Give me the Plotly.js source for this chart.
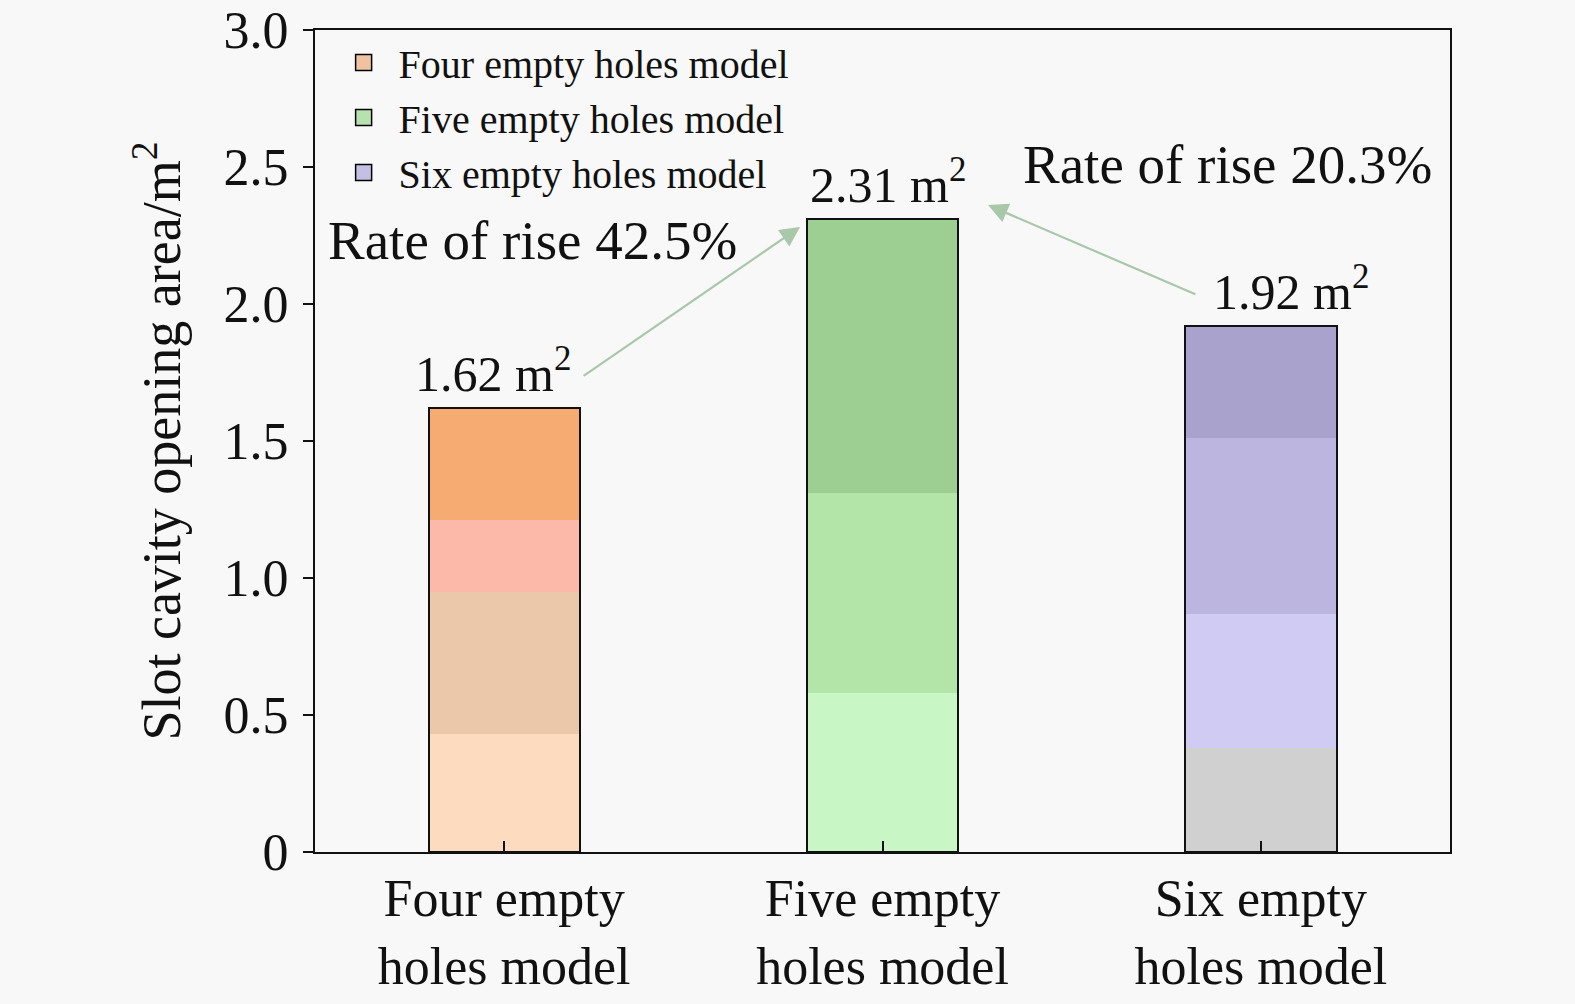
<!DOCTYPE html>
<html>
<head>
<meta charset="utf-8">
<script src="https://cdn.plot.ly/plotly-3.0.1.min.js"></script>
<style>
  html, body { margin: 0; padding: 0; background: #f8f8f8; }
  #chart { width: 1575px; height: 1004px; }
</style>
</head>
<body>
<div id="chart"></div>
<script>
// categories and values
var categories = ['Four empty<br>holes model', 'Five empty<br>holes model', 'Six empty<br>holes model'];
var legendNames = ['Four empty holes model', 'Five empty holes model', 'Six empty holes model'];
var totals = [1.62, 2.31, 1.92];
var riseRates = ['42.5%', '20.3%'];

// colour bands inside each bar (bottom to top heights)
var fourSegments = [0.43, 0.52, 0.26, 0.41];
var fiveSegments = [0.58, 0.73, 1.00];
var sixSegments = [0.38, 0.49, 0.64, 0.41];

var fourColors = ['#fddbbe', '#ecc8ab', '#fcb8a8', '#f6ab72'];
var fiveColors = ['#c9f6c5', '#b3e5a9', '#9dcf92'];
var sixColors = ['#d0d0d0', '#d0cbf2', '#bbb5e0', '#a8a2cc'];
var legendColors = ['#efc3a2', '#b5e2ad', '#c4c0e4'];

var fontFam = '"Liberation Serif", "Times New Roman", serif';

var traces = [];

function addSegments(catIdx, segs, cols){
	segs.forEach(function(h, i){
		traces.push({
			type: 'bar',
			x: [categories[catIdx]],
			y: [h],
			width: 0.4,
			marker: {color: cols[i], line: {width: 0}},
			showlegend: false,
			hoverinfo: 'skip'
		});
	});
}

addSegments(0, fourSegments, fourColors);
addSegments(1, fiveSegments, fiveColors);
addSegments(2, sixSegments, sixColors);

// legend entries only (square markers give a larger swatch than bar icons)
legendNames.forEach(function(name, i){
	traces.push({
		type: 'scatter',
		mode: 'markers',
		x: [null],
		y: [null],
		name: name,
		marker: {symbol: 'square', size: 16, color: legendColors[i], line: {color: '#000', width: 1.5}},
		showlegend: true
	});
});

// black outline around each whole bar
traces.push({
	type: 'bar',
	x: categories,
	y: totals,
	width: 0.4,
	xaxis: 'x2',
	marker: {color: 'rgba(0,0,0,0)', line: {color: '#111', width: 2}},
	showlegend: false,
	hoverinfo: 'skip'
});

var annotations = [];

// value labels above bars
var labelShift = [-11, 5, 30];
totals.forEach(function(v, i){
	annotations.push({
		x: i, y: v, xref: 'x', yref: 'y',
		text: v.toFixed(2) + ' m<sup>2</sup>',
		showarrow: false,
		yanchor: 'bottom',
		xshift: labelShift[i],
		yshift: 4,
		font: {family: fontFam, size: 50, color: '#111'}
	});
});

// rise arrows
annotations.push({
	x: 0.782, y: 2.281, ax: 0.206, ay: 1.734,
	xref: 'x', yref: 'y', axref: 'x', ayref: 'y',
	text: '', showarrow: true,
	arrowhead: 2, arrowsize: 1.8, arrowwidth: 2.2, arrowcolor: '#a9c7a9'
});
annotations.push({
	x: 1.279, y: 2.361, ax: 1.831, ay: 2.033,
	xref: 'x', yref: 'y', axref: 'x', ayref: 'y',
	text: '', showarrow: true,
	arrowhead: 2, arrowsize: 1.8, arrowwidth: 2.2, arrowcolor: '#a9c7a9'
});

annotations.push({
	x: 0.074, y: 2.23, xref: 'x', yref: 'y',
	text: 'Rate of rise ' + riseRates[0],
	showarrow: false,
	font: {family: fontFam, size: 55, color: '#111'}
});
annotations.push({
	x: 1.911, y: 2.51, xref: 'x', yref: 'y',
	text: 'Rate of rise ' + riseRates[1],
	showarrow: false,
	font: {family: fontFam, size: 55, color: '#111'}
});

var layout = {
	width: 1575,
	height: 1004,
	margin: {l: 315, r: 125, t: 30, b: 152},
	paper_bgcolor: '#f8f8f8',
	plot_bgcolor: '#f8f8f8',
	barmode: 'stack',
	font: {family: fontFam, color: '#111'},
	xaxis: {
		type: 'category',
		range: [-0.5, 2.5],
		showline: true, linecolor: '#111', linewidth: 2, mirror: true,
		ticks: 'inside', ticklen: 11, tickwidth: 2, tickcolor: '#111',
		showgrid: false, zeroline: false,
		tickfont: {family: fontFam, size: 52, color: '#111'},
		ticklabelstandoff: 0
	},
	xaxis2: {
		type: 'category',
		overlaying: 'x',
		matches: 'x',
		visible: false
	},
	yaxis: {
		range: [0, 3],
		tickvals: [0, 0.5, 1, 1.5, 2, 2.5, 3],
		ticktext: ['0', '0.5', '1.0', '1.5', '2.0', '2.5', '3.0'],
		showline: true, linecolor: '#111', linewidth: 2, mirror: true,
		ticks: 'outside', ticklen: 10, tickwidth: 2, tickcolor: '#111',
		showgrid: false, zeroline: false,
		tickfont: {family: fontFam, size: 52, color: '#111'},
		ticklabelstandoff: 4,
		title: {
			text: 'Slot cavity opening area/m<sup>2</sup>',
			font: {family: fontFam, size: 54, color: '#111'},
			standoff: 26
		}
	},
	legend: {
		x: 0.012, y: 1.0, xanchor: 'left', yanchor: 'top',
		traceorder: 'normal',
		bgcolor: 'rgba(0,0,0,0)',
		font: {family: fontFam, size: 40, color: '#111'},
		tracegroupgap: 0,
		itemwidth: 60
	},
	annotations: annotations,
	showlegend: true
};

Plotly.newPlot('chart', traces, layout, {staticPlot: true});
</script>
</body>
</html>
